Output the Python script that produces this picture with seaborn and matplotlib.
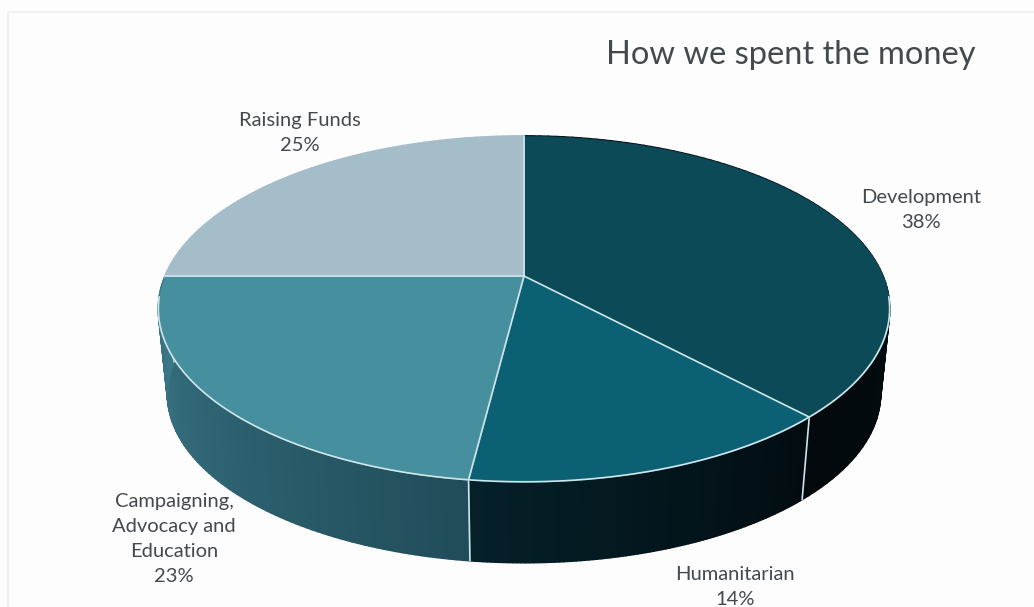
import numpy as np
import matplotlib
matplotlib.use("Agg")
import matplotlib.pyplot as plt
from matplotlib.collections import PolyCollection
import seaborn as sns

categories = ["Development", "Humanitarian", "Campaigning,\nAdvocacy and\nEducation", "Raising Funds"]
shares = [38, 14, 23, 25]
top_colors = ["#0d4a57", "#0c6074", "#468f9f", "#a5bdc9"]
side_from = ["#04131a", "#020c10", "#214d5a", "#a5bdc9"]
side_to = ["#03090c", "#052029", "#3b7888", "#a5bdc9"]
label_xy = [(921, 210), (735, 587), (174, 539), (300, 133)]

sns.set_theme(style="white")
plt.rcParams["font.family"] = ["Lato", "DejaVu Sans"]
BG = "#fdfdfd"
LINE = "#cfe6ea"
TEXT = "#44494e"

fig, ax = plt.subplots(figsize=(10.34, 6.07), dpi=100, facecolor=BG)
ax.set_position([0, 0, 1, 1])
ax.set_xlim(0, 1034)
ax.set_ylim(607, 0)
ax.axis("off")


def project(deg, scale=1.0, drop=0.0):
    t = np.radians(deg)
    w = 1 + 0.19 * np.cos(t)
    x = 524 + scale * 359 * np.sin(t) / w
    y = 276 + drop - scale * 166.7 * np.cos(t) / w
    return np.column_stack([x, y])


edges = np.concatenate([[0], np.cumsum(shares)]) * 3.6
SCALE, DROP = 0.975, 86

# frame of the scanned page
ax.plot([1034, 8, 8], [12, 12, 607], color="#f1f1f1", lw=1.5, zorder=0)

# side wall
for i in range(len(shares)):
    ts = np.linspace(edges[i], edges[i + 1], 90)
    pal = sns.blend_palette([side_from[i], side_to[i]], len(ts) - 1)
    upper, lower = project(ts), project(ts, SCALE, DROP)
    strips = [np.vstack([upper[k], upper[k + 1], lower[k + 1], lower[k]]) for k in range(len(ts) - 1)]
    ax.add_collection(PolyCollection(strips, facecolors=pal, edgecolors=pal, linewidths=1.2, zorder=1))

# dividers on the side wall
for e in edges[1:3]:
    a, b = project(e), project(e, SCALE, DROP)
    ax.plot([a[0, 0], b[0, 0]], [a[0, 1], b[0, 1]], color=LINE, lw=1.2, zorder=2)

# top surface
centre = np.array([[524.0, 276.0]])
for i in range(len(shares)):
    ts = np.linspace(edges[i], edges[i + 1], 160)
    ax.add_collection(PolyCollection([np.vstack([centre, project(ts)])], facecolors=top_colors[i],
                                     edgecolors=top_colors[i], linewidths=0.4, zorder=3))
for e in edges[:-1]:
    a = project(e)
    ax.plot([524, a[0, 0]], [276, a[0, 1]], color=LINE, lw=1.2, zorder=4)
rim = project(np.linspace(97, 263, 300))
ax.plot(rim[:, 0], rim[:, 1], color=LINE, lw=1.2, zorder=4)

ax.text(791, 55, "How we spent the money", ha="center", va="center", fontsize=23.5, color=TEXT, zorder=5)
for cat, val, (x, y) in zip(categories, shares, label_xy):
    ax.text(x, y, f"{cat}\n{val}%", ha="center", va="center", fontsize=14.5, color=TEXT,
            linespacing=1.55, zorder=5)

fig.savefig("out.png", dpi=100, facecolor=BG)
